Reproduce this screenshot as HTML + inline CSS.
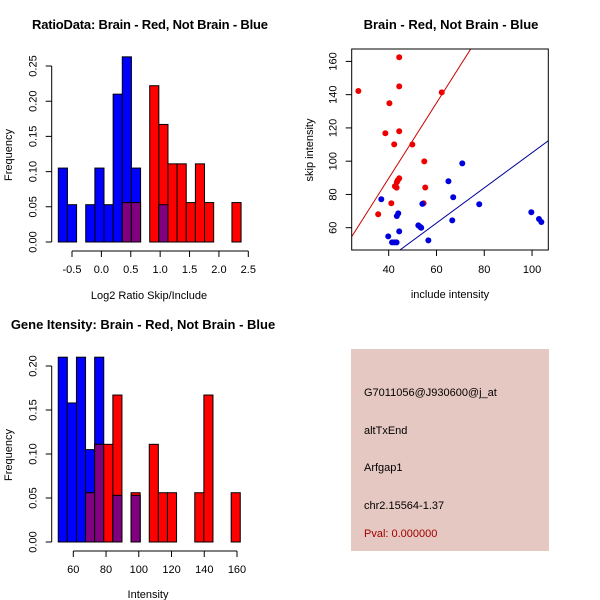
<!DOCTYPE html>
<html><head><meta charset="utf-8"><style>
html,body{margin:0;padding:0;background:#fff}
svg{display:block;font-family:"Liberation Sans",sans-serif}
</style></head><body>
<svg id="s" width="600" height="600" viewBox="0 0 600 600" xmlns="http://www.w3.org/2000/svg">
<rect width="600" height="600" fill="#fff"/>
<text x="150" y="29" font-size="13" font-weight="bold" text-anchor="middle" textLength="236">RatioData: Brain - Red, Not Brain - Blue</text>
<text x="451" y="29" font-size="13" font-weight="bold" text-anchor="middle">Brain - Red, Not Brain - Blue</text>
<text x="143" y="329" font-size="13" font-weight="bold" text-anchor="middle">Gene Itensity: Brain - Red, Not Brain - Blue</text>
<text x="149" y="299" font-size="11" text-anchor="middle">Log2 Ratio Skip/Include</text>
<text x="450" y="298" font-size="11" text-anchor="middle">include intensity</text>
<text x="148" y="598" font-size="11" text-anchor="middle">Intensity</text>
<text transform="translate(12,155) rotate(-90)" font-size="11" text-anchor="middle">Frequency</text>
<text transform="translate(313,150) rotate(-90)" font-size="11" text-anchor="middle">skip intensity</text>
<text transform="translate(12,455) rotate(-90)" font-size="11" text-anchor="middle">Frequency</text>
<g>
<rect x="351" y="349" width="198" height="202" fill="#e6c8c2"/>
<text x="364" y="396" font-size="11">G7011056@J930600@j_at</text>
<text x="364" y="434" font-size="11">altTxEnd</text>
<text x="364" y="471" font-size="11">Arfgap1</text>
<text x="364" y="509" font-size="11">chr2.15564-1.37</text>
<text x="364" y="537" font-size="11" fill="#a00000">Pval: 0.000000</text>
</g>
</svg>
<script>
// Ratio histogram data
const ratioBin0 = -0.733, ratioBinW = 0.1555;
const ratioBlue = [0.105,0.053,0,0.053,0.105,0.053,0.21,0.263,0.105,0,0,0.053,0,0,0,0,0,0,0,0];
const ratioRed  = [0,0,0,0,0,0,0,0.056,0.056,0,0.222,0.167,0.111,0.111,0.056,0.111,0.056,0,0,0.056];
const ratioXTicks = [-0.5,0,0.5,1,1.5,2,2.5];
const ratioXLabels = ["-0.5","0.0","0.5","1.0","1.5","2.0","2.5"];
const ratioYTicks = [0,0.05,0.1,0.15,0.2,0.25];
const ratioYLabels = ["0.00","0.05","0.10","0.15","0.20","0.25"];
// Intensity histogram data
const intBin0 = 50.8, intBinW = 5.56;
const intBlue = [0.21,0.158,0.21,0.105,0.21,0,0.053,0,0.053,0,0,0,0,0,0,0,0,0,0,0];
const intRed  = [0,0,0,0.056,0.111,0.111,0.167,0,0.056,0,0.111,0.056,0.056,0,0,0.056,0.167,0,0,0.056];
const intXTicks = [60,80,100,120,140,160];
const intYTicks = [0,0.05,0.1,0.15,0.2];
const intYLabels = ["0.00","0.05","0.10","0.15","0.20"];
// Scatter data
const brainX = [44.4,27.3,44.4,62.2,40.3,38.6,44.4,42.3,49.9,54.9,44.4,43.8,43.4,42.6,43.3,55.3,41.1,54.6,35.6];
const brainY = [162.5,142.2,145,141.4,134.8,116.8,118,110.1,110,99.9,89.7,88.5,87.3,84.9,84.1,84.2,74.7,74.7,68.1];
const otherX = [36.9,39.8,41.4,42.4,43.3,43.4,44.0,44.4,52.4,53.1,53.6,54.1,56.6,65.0,67.0,66.6,70.8,77.9,99.7,102.9,103.9];
const otherY = [77.1,54.8,51.2,51.2,51.2,67.0,68.6,57.8,61.4,60.6,60.0,74.3,52.4,87.9,78.3,64.4,98.7,74.1,69.3,65.2,63.4];
const brainFit = [-0.9,2.265];
const otherFit = [-0.7,1.058];
const scXTicks = [40,60,80,100];
const scYTicks = [60,80,100,120,140,160];

const svg = document.getElementById('s');
const NS = 'http://www.w3.org/2000/svg';
function mk(tag, attrs, parent){const e=document.createElementNS(NS,tag);for(const k in attrs)e.setAttribute(k,attrs[k]);(parent||svg).appendChild(e);return e;}

function hist(name, bin0, w, blue, red, xs, ys, xTicks, xLabels, yTicks, yLabels, axY, yAxX){
  const g = mk('g',{});
  
  
  const n = Math.max(blue.length, red.length);
  for(let i=0;i<n;i++){
    const x0=xs(bin0+i*w), x1=xs(bin0+(i+1)*w);
    const b=blue[i]||0, r=red[i]||0, m=Math.min(b,r);
    if(b>0){const e=mk('rect',{x:x0,y:ys(b),width:x1-x0,height:ys(0)-ys(b),fill:'#0000ff',stroke:'#000','stroke-width':1},g);
      
      }
    if(r>0){const e=mk('rect',{x:x0,y:ys(r),width:x1-x0,height:ys(0)-ys(r),fill:'#ff0000',stroke:'#000','stroke-width':1},g);
      
      }
    if(m>0){const e=mk('rect',{x:x0,y:ys(m),width:x1-x0,height:ys(0)-ys(m),fill:'#800080',stroke:'#000','stroke-width':1},g);
      
      }
  }
  axes(g, xs, ys, xTicks, xLabels, yTicks, yLabels, axY, yAxX);
}
function axes(g, xs, ys, xTicks, xLabels, yTicks, yLabels, axY, yAxX){
  const xa=mk('path',{d:`M${xs(xTicks[0])},${axY}H${xs(xTicks[xTicks.length-1])}`+xTicks.map(t=>`M${xs(t)},${axY}v6`).join(''),stroke:'#000',fill:'none'},g);
  
  
  xTicks.forEach((t,i)=>{const e=mk('text',{x:xs(t),y:axY+22,'font-size':11,'text-anchor':'middle'},g);e.textContent=xLabels[i];
    
    });
  const ya=mk('path',{d:`M${yAxX},${ys(yTicks[0])}V${ys(yTicks[yTicks.length-1])}`+yTicks.map(t=>`M${yAxX},${ys(t)}h-6`).join(''),stroke:'#000',fill:'none'},g);
  
  
  yTicks.forEach((t,i)=>{const e=mk('text',{transform:`translate(${yAxX-15},${ys(t)}) rotate(-90)`,'font-size':11,'text-anchor':'middle'},g);e.textContent=yLabels[i];
    
    });
}
const rxs=v=>72+(v+0.5)*58.77, rys=v=>242-v*704;
hist('ratio-histogram', ratioBin0, ratioBinW, ratioBlue, ratioRed, rxs, rys, ratioXTicks, ratioXLabels, ratioYTicks, ratioYLabels, 251, 51.7);
const ixs=v=>73.3+(v-60)*1.637, iys=v=>542-v*880;
hist('intensity-histogram', intBin0, intBinW, intBlue, intRed, ixs, iys, intXTicks, intXTicks.map(String), intYTicks, intYLabels, 551, 51.7);

// Scatter
const sxs=v=>388.7+(v-40)*2.389, sys=v=>227.7-(v-60)*1.663;
const L=351.7,R=548.3,T=49,B=250;
const sg=mk('g',{});


const cp=mk('clipPath',{id:'cp'},sg);
mk('rect',{x:L,y:T,width:R-L,height:B-T},cp);
const xmin=24.5,xmax=106.8;
const l1=mk('line',{x1:sxs(xmin),y1:sys(brainFit[0]+brainFit[1]*xmin),x2:sxs(xmax),y2:sys(brainFit[0]+brainFit[1]*xmax),stroke:'#cc0000','clip-path':'url(#cp)'},sg);


const l2=mk('line',{x1:sxs(xmin),y1:sys(otherFit[0]+otherFit[1]*xmin),x2:sxs(xmax),y2:sys(otherFit[0]+otherFit[1]*xmax),stroke:'#000099','clip-path':'url(#cp)'},sg);


brainX.forEach((x,i)=>{const c=mk('circle',{cx:sxs(x),cy:sys(brainY[i]),r:3,fill:'#ee0000'},sg);
  
  });
otherX.forEach((x,i)=>{const c=mk('circle',{cx:sxs(x),cy:sys(otherY[i]),r:3,fill:'#0000dd'},sg);
  
  });
const box=mk('rect',{x:L,y:T,width:R-L,height:B-T,fill:'none',stroke:'#000'},sg);


scXTicks.forEach(t=>{mk('line',{x1:sxs(t),x2:sxs(t),y1:B,y2:B+6,stroke:'#000'},sg);
  const e=mk('text',{x:sxs(t),y:B+23,'font-size':11,'text-anchor':'middle'},sg);e.textContent=t;
  
  });
scYTicks.forEach(t=>{mk('line',{x1:L,x2:L-6,y1:sys(t),y2:sys(t),stroke:'#000'},sg);
  const e=mk('text',{transform:`translate(${L-15},${sys(t)}) rotate(-90)`,'font-size':11,'text-anchor':'middle'},sg);e.textContent=t;
  
  });
</script>
</body></html>
